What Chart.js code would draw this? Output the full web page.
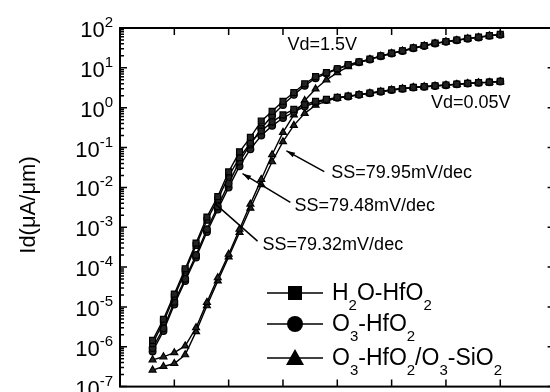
<!DOCTYPE html>
<html>
<head>
<meta charset="utf-8">
<script src="https://cdn.jsdelivr.net/npm/chart.js@4.4.1/dist/chart.umd.min.js"></script>
<style>
html, body { margin: 0; padding: 0; background: #fff; overflow: hidden; width: 550px; height: 392px; }
canvas { display: block; }
</style>
</head>
<body>
<canvas id="c" width="560" height="392"></canvas>
<script>
// gate voltage (V)
const vg = [-0.35, -0.3, -0.25, -0.2, -0.15, -0.1, -0.05, 0, 0.05, 0.1, 0.15, 0.2, 0.25, 0.3, 0.35, 0.4,
  0.45, 0.5, 0.55, 0.6, 0.65, 0.7, 0.75, 0.8, 0.85, 0.9, 0.95, 1.0, 1.05, 1.1, 1.15, 1.2, 1.25];

// drain current (uA/um), Vd = 1.5V and Vd = 0.05V
const h2oHigh = [1.45e-6, 4.9e-6, 2.1e-5, 9.1e-5, 4.0e-4, 1.8e-3, 5.9e-3, 2.45e-2, 7.8e-2, 0.18, 0.46, 0.81, 1.45,
  2.4, 4.0, 6.0, 7.6, 9.5, 12, 14.1, 16.6, 20, 23.4, 26.9, 31.6, 36.3, 41.7, 45.7, 50, 55, 59, 64.6, 69];
const h2oLow = [1.2e-6, 4.2e-6, 1.8e-5, 7.9e-5, 3.5e-4, 1.5e-3, 5.0e-3, 1.9e-2, 5.6e-2, 0.13, 0.26, 0.44, 0.66,
  0.91, 1.2, 1.45, 1.62, 1.82, 1.95, 2.14, 2.34, 2.57, 2.82, 3.02, 3.24, 3.39, 3.55, 3.72, 3.89, 4.07, 4.27, 4.37, 4.57];
const o3High = [9.3e-7, 2.9e-6, 1.35e-5, 5.1e-5, 2.0e-4, 8.9e-4, 3.3e-3, 1.26e-2, 4.5e-2, 0.12, 0.30, 0.63, 1.17,
  2.1, 3.55, 5.5, 7.2, 9.3, 11.8, 13.8, 16.3, 19.6, 23, 26.5, 31, 35.5, 41, 45, 49, 54, 58, 63.5, 68];
const o3Low = [7.6e-7, 2.5e-6, 1.15e-5, 4.5e-5, 1.74e-4, 7.6e-4, 2.8e-3, 1.0e-2, 3.4e-2, 9.1e-2, 0.2, 0.35, 0.55,
  0.79, 1.07, 1.35, 1.55, 1.78, 1.91, 2.1, 2.3, 2.52, 2.78, 2.98, 3.2, 3.35, 3.5, 3.68, 3.85, 4.03, 4.22, 4.33, 4.52];
const stackHigh = [4.7e-7, 5.6e-7, 7.1e-7, 1.05e-6, 3.0e-6, 1.3e-5, 5.4e-5, 2.1e-4, 8.9e-4, 3.8e-3, 1.58e-2, 6.6e-2, 0.24,
  0.66, 1.51, 2.95, 5.0, 7.6, 10.7, 13.5, 16.3, 19.6, 23, 26.5, 31, 35.5, 41, 45, 49, 54, 58, 63.5, 68];
const stackLow = [2.6e-7, 3.2e-7, 3.8e-7, 6.3e-7, 2.4e-6, 1.07e-5, 4.5e-5, 1.8e-4, 7.4e-4, 3.0e-3, 1.17e-2, 4.4e-2, 0.14,
  0.36, 0.72, 1.15, 1.48, 1.74, 1.91, 2.1, 2.3, 2.52, 2.78, 2.98, 3.2, 3.35, 3.5, 3.68, 3.85, 4.03, 4.22, 4.33, 4.52];

// legend labels, "_x" = subscript
const seriesNames = ['H_2O-HfO_2', 'O_3-HfO_2', 'O_3-HfO_2/O_3-SiO_2'];
const seriesStyles = ['rect', 'circle', 'triangle'];

// y axis ticks
const yTickValues = [1e2, 1e1, 1e0, 1e-1, 1e-2, 1e-3, 1e-4, 1e-5, 1e-6, 1e-7];
const yTickExps = ['2', '1', '0', '-1', '-2', '-3', '-4', '-5', '-6', '-7'];

// text annotations [text, vg, id]
const notes = [
  ['Vd=1.5V', 0.271, 37.8],
  ['Vd=0.05V', 0.931, 1.29],
  ['SS=79.95mV/dec', 0.4725, 0.0234],
  ['SS=79.48mV/dec', 0.303, 3.35e-3],
  ['SS=79.32mV/dec', 0.156, 3.59e-4]
];
// arrows [vgFrom, idFrom, vgTo, idTo, head]
const arrows = [
  [0.440, 0.0248, 0.266, 0.0826, true],
  [0.284, 4.2e-3, 0.064, 0.0221, true],
  [0.133, 4.47e-4, -0.064, 3.98e-3, false]
];

const FONT = '"Liberation Sans", Arial, Helvetica, sans-serif';

function points(arr) {
  return vg.map((v, i) => ({ x: v, y: arr[i] }));
}

function makeSet(label, arr, style, r) {
  return {
    label: label,
    data: points(arr),
    borderColor: '#000',
    backgroundColor: '#222',
    borderWidth: 1.4,
    pointStyle: style,
    pointRadius: r,
    pointBorderWidth: 1.2,
    pointBorderColor: '#000',
    pointBackgroundColor: '#222',
    tension: 0
  };
}

const datasets = [
  makeSet(seriesNames[0], h2oHigh, seriesStyles[0], 4.2),
  makeSet(seriesNames[0], h2oLow, seriesStyles[0], 4.2),
  makeSet(seriesNames[1], o3High, seriesStyles[1], 3.4),
  makeSet(seriesNames[1], o3Low, seriesStyles[1], 3.4),
  makeSet(seriesNames[2], stackHigh, seriesStyles[2], 4),
  makeSet(seriesNames[2], stackLow, seriesStyles[2], 4)
];

function drawRich(ctx, str, x, y, size, subSize) {
  let cx = x;
  for (let i = 0; i < str.length; i++) {
    let ch = str[i];
    if (ch === '_') {
      i++;
      ctx.font = subSize + 'px ' + FONT;
      ctx.fillText(str[i], cx, y + 10);
      cx += ctx.measureText(str[i]).width;
    } else {
      ctx.font = size + 'px ' + FONT;
      ctx.fillText(ch, cx, y);
      cx += ctx.measureText(ch).width;
    }
  }
}

function marker(ctx, style, x, y, s) {
  ctx.beginPath();
  if (style === 'rect') {
    ctx.rect(x - s, y - s, 2 * s, 2 * s);
  } else if (style === 'circle') {
    ctx.arc(x, y, s + 1, 0, Math.PI * 2);
  } else {
    ctx.moveTo(x, y - s - 2);
    ctx.lineTo(x + s + 2, y + s);
    ctx.lineTo(x - s - 2, y + s);
    ctx.closePath();
  }
  ctx.fill();
}

const framePlugin = {
  id: 'frame',
  afterDraw(chart) {
    const ctx = chart.ctx;
    const a = chart.chartArea;
    const x = chart.scales.x;
    const y = chart.scales.y;
    ctx.save();
    ctx.strokeStyle = '#000';
    ctx.fillStyle = '#000';
    ctx.lineWidth = 2;
    ctx.strokeRect(a.left, a.top, a.right - a.left, a.bottom - a.top);

    // inward ticks
    ctx.lineWidth = 1.5;
    ctx.beginPath();
    x.ticks.forEach(t => {
      const px = x.getPixelForValue(t.value);
      ctx.moveTo(px, a.bottom); ctx.lineTo(px, a.bottom - 7);
      ctx.moveTo(px, a.top); ctx.lineTo(px, a.top + 7);
    });
    yTickValues.forEach((v, i) => {
      const py = y.getPixelForValue(v);
      ctx.moveTo(a.left, py); ctx.lineTo(a.left + 7, py);
      ctx.moveTo(a.right, py); ctx.lineTo(a.right - 7, py);
      if (i > 0) {
        for (let m = 2; m < 10; m++) {
          const pm = y.getPixelForValue(v * m);
          ctx.moveTo(a.left, pm); ctx.lineTo(a.left + 4, pm);
        }
      }
    });
    ctx.stroke();

    // y tick labels 10^n
    ctx.textBaseline = 'alphabetic';
    ctx.textAlign = 'left';
    yTickValues.forEach((v, i) => {
      const py = y.getPixelForValue(v);
      ctx.font = '15px ' + FONT;
      const we = ctx.measureText(yTickExps[i]).width;
      ctx.fillText(yTickExps[i], 113 - we, py - 1);
      ctx.font = '22px ' + FONT;
      const wb = ctx.measureText('10').width;
      ctx.fillText('10', 113 - we - wb, py + 9);
    });

    // y title
    ctx.save();
    ctx.translate(35, 205);
    ctx.rotate(-Math.PI / 2);
    ctx.textAlign = 'center';
    ctx.font = '22px ' + FONT;
    ctx.fillText('Id(\u03bcA/\u03bcm)', 0, 0);
    ctx.restore();

    // annotations
    ctx.textAlign = 'left';
    ctx.font = '18px ' + FONT;
    ctx.textBaseline = 'middle';
    notes.forEach(n => {
      ctx.fillText(n[0], x.getPixelForValue(n[1]), y.getPixelForValue(n[2]));
    });
    ctx.lineWidth = 1.5;
    arrows.forEach(ar => {
      const x0 = x.getPixelForValue(ar[0]), y0 = y.getPixelForValue(ar[1]);
      const x1 = x.getPixelForValue(ar[2]), y1 = y.getPixelForValue(ar[3]);
      ctx.beginPath();
      ctx.moveTo(x0, y0); ctx.lineTo(x1, y1);
      ctx.stroke();
      if (ar[4]) {
        const ang = Math.atan2(y1 - y0, x1 - x0);
        ctx.beginPath();
        ctx.moveTo(x1, y1);
        ctx.lineTo(x1 - 9 * Math.cos(ang - 0.3), y1 - 9 * Math.sin(ang - 0.3));
        ctx.lineTo(x1 - 9 * Math.cos(ang + 0.3), y1 - 9 * Math.sin(ang + 0.3));
        ctx.closePath();
        ctx.fill();
      }
    });

    // legend
    const rows = [293, 324, 358];
    ctx.textBaseline = 'alphabetic';
    seriesNames.forEach((name, i) => {
      const ry = rows[i];
      ctx.lineWidth = 1.5;
      ctx.beginPath();
      ctx.moveTo(267, ry); ctx.lineTo(323, ry);
      ctx.stroke();
      marker(ctx, seriesStyles[i], 295, ry, 7);
      drawRich(ctx, name, 332, ry + 7, 23, 15);
    });
    ctx.restore();
  }
};

new Chart(document.getElementById('c'), {
  type: 'line',
  data: { datasets: datasets },
  options: {
    responsive: false,
    animation: false,
    layout: { padding: { top: 28, right: 4, left: 0, bottom: 0 } },
    plugins: { legend: { display: false }, tooltip: { enabled: false } },
    scales: {
      x: {
        type: 'linear', min: -0.5, max: 1.5,
        ticks: { stepSize: 0.25, display: false },
        grid: { display: false }, border: { display: false },
        afterFit(s) { s.height = 2; }
      },
      y: {
        type: 'logarithmic', min: 1e-7, max: 1e2,
        ticks: { display: false },
        grid: { display: false }, border: { display: false },
        afterFit(s) { s.width = 120; }
      }
    }
  },
  plugins: [framePlugin]
});
</script>
</body>
</html>
